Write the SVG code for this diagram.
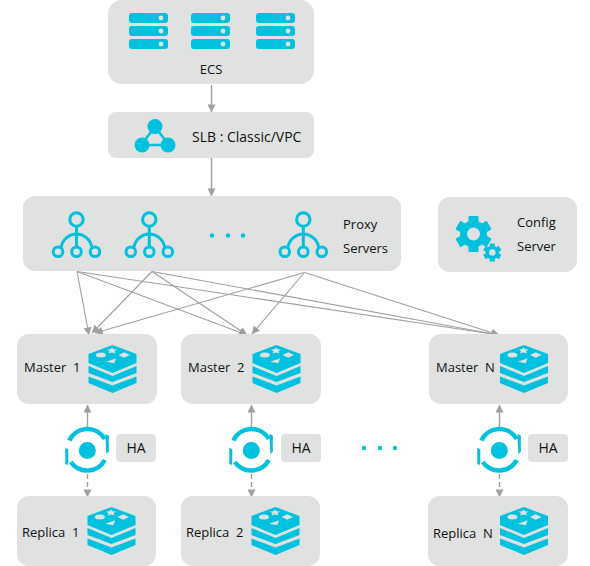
<svg xmlns="http://www.w3.org/2000/svg" width="590" height="566" viewBox="0 0 590 566">
<style>
.box{fill:#e0e1e1}
text{font-family:"Open Sans","Noto Sans",sans-serif;font-size:13px;fill:#111;white-space:pre}
.big{font-size:14px}
.c{fill:#00c1de}
.o{fill:none;stroke:#00c1de;stroke-width:3}
.h{fill:none;stroke:#00c1de;stroke-width:4.500}
.l{fill:none;stroke:#a0a0a0;stroke-width:1.1}
.s{fill:none;stroke:#a0a0a0;stroke-width:1.4}
.d{fill:none;stroke:#a0a0a0;stroke-width:1.4;stroke-dasharray:5 3}
.g{fill:#e0e1e1}
</style>
<defs>
<marker id="a" viewBox="0 0 10 10" refX="9.500" refY="5" markerWidth="8" markerHeight="8" markerUnits="userSpaceOnUse" orient="auto"><path d="M0 0L10 5L0 10Z" fill="#a0a0a0"/></marker>
<marker id="b" viewBox="0 0 10 10" refX="9.500" refY="5" markerWidth="11" markerHeight="8" markerUnits="userSpaceOnUse" orient="auto"><path d="M0 0L10 5L0 10Z" fill="#a0a0a0"/></marker>
<g id="srv"><rect class="c" x="0" y="13" width="39" height="10" rx="3"/><rect class="c" x="0" y="26" width="39" height="10" rx="3"/><rect class="c" x="0" y="39" width="39" height="10" rx="3"/><circle class="g" cx="32" cy="18" r="2.400"/><circle class="g" cx="32" cy="31" r="2.400"/><circle class="g" cx="32" cy="44" r="2.400"/></g>
<g id="proxy"><circle class="o" cx="0" cy="219.500" r="6.700"/><path class="o" d="M0 226V247M-15.500 247.500C-14 239-7 234 0 234S14 239 15.500 247.500"/><circle class="o" cx="-18.500" cy="251.700" r="4.800"/><circle class="o" cx="0" cy="251.700" r="4.800"/><circle class="o" cx="18.500" cy="251.700" r="4.800"/></g>
<g id="redis"><path class="c" d="M0 0L24 9V18L0 28L-24 18V9Z"/><path class="c" d="M-24 21L0 31L24 21V28L0 37L-24 28Z"/><path class="c" d="M-24 31.500L0 40.500L24 31.500V38L0 48L-24 38Z"/><ellipse class="g" cx="-11.600" cy="10" rx="5" ry="2.500"/><path class="g" d="M-.5 2.500L1 4.300L4.500 4.600L2 6.300L3 8.500L-.5 7.400L-4 8.500L-3 6.300L-5.500 4.600L-2 4.300Z"/><path class="g" d="M11.700 7.300L17.500 10L11.700 12.700L6 10Z"/><path class="g" d="M-6.300 16.700L3.700 13.300L1.700 18.300Z"/></g>
<g id="ha"><path class="h" d="M-18 -10A20 20 0 0 1 17.500 -11.500"/><path class="c" d="M18 -16.500L21.500 -15V1L19 3.500Z"/><path class="h" d="M17.500 9.500A20 20 0 0 1 -16.500 11.500"/><path class="c" d="M-22 -3L-19 -1V12L-20 15L-22 13Z"/><circle class="c" cx="0" cy="0" r="8.500"/></g>
<g id="gear"><circle class="c" r="13.500"/><rect class="c" x="-5" y="-18" width="10" height="36" rx="1"/><rect class="c" x="-5" y="-18" width="10" height="36" rx="1" transform="rotate(60)"/><rect class="c" x="-5" y="-18" width="10" height="36" rx="1" transform="rotate(120)"/><circle class="g" r="6.500"/></g>
</defs>
<g id="connectors">
<path class="s" marker-end="url(#a)" d="M211.500 85V112"/>
<path class="s" marker-end="url(#a)" d="M211.500 158V196"/>
<path class="l" marker-end="url(#b)" d="M77 271.500L89 335"/>
<path class="l" marker-end="url(#b)" d="M77 271.500L247 335"/>
<path class="l" marker-end="url(#b)" d="M77 271.500L499 335"/>
<path class="l" marker-end="url(#b)" d="M152 271.500L92 333"/>
<path class="l" marker-end="url(#b)" d="M152 271.500L247 335"/>
<path class="l" marker-end="url(#b)" d="M152 271.500L499 335"/>
<path class="l" marker-end="url(#b)" d="M304.500 272.500L95 333"/>
<path class="l" marker-end="url(#b)" d="M304.500 272.500L252 334"/>
<path class="l" marker-end="url(#b)" d="M304.500 272.500L499 335"/>
<path class="s" marker-end="url(#a)" d="M87.500 427V405"/><path class="d" marker-end="url(#a)" d="M87.500 474V497"/>
<path class="s" marker-end="url(#a)" d="M251.500 427V405"/><path class="d" marker-end="url(#a)" d="M251.500 474V497"/>
<path class="s" marker-end="url(#a)" d="M499.500 427V405"/><path class="d" marker-end="url(#a)" d="M499.500 474V497"/>
</g>
<g id="ecs"><rect class="box" x="108" y="0" width="206" height="84" rx="14"/><use href="#srv" x="129"/><use href="#srv" x="191"/><use href="#srv" x="256"/><text x="211" y="74" text-anchor="middle">ECS</text></g>
<g id="slb"><rect class="box" x="108" y="112" width="206" height="46" rx="8"/><path fill="none" stroke="#00c1de" stroke-width="2.500" d="M155 127L141 145H169Z"/><circle class="c" cx="155" cy="126.500" r="7.500"/><circle class="c" cx="142" cy="145" r="7.500"/><circle class="c" cx="168" cy="145" r="7.500"/><text class="big" x="192" y="142">SLB : Classic/VPC</text></g>
<g id="proxy-servers"><rect class="box" x="23" y="196" width="378" height="75" rx="12"/><use href="#proxy" x="76.500"/><use href="#proxy" x="149.300"/><use href="#proxy" x="303.300"/><circle class="c" cx="212" cy="235.500" r="2.200"/><circle class="c" cx="228" cy="235.500" r="2.200"/><circle class="c" cx="243" cy="235.500" r="2.200"/><text x="343" y="229">Proxy</text><text x="343" y="253">Servers</text></g>
<g id="config-server"><rect class="box" x="438" y="197" width="139" height="75" rx="12"/><use href="#gear" x="473.500" y="234"/><use href="#gear" transform="translate(492.300 252.500) scale(.5)"/><text x="517" y="227">Config</text><text x="517" y="251">Server</text></g>
<g id="master-1"><rect class="box" x="17" y="334" width="140" height="70" rx="12"/><use href="#redis" x="112.500" y="345"/><text x="24" y="372">Master  1</text></g>
<g id="master-2"><rect class="box" x="181" y="334" width="140" height="70" rx="12"/><use href="#redis" x="276.500" y="345"/><text x="188" y="372">Master  2</text></g>
<g id="master-n"><rect class="box" x="429" y="334" width="139" height="70" rx="12"/><use href="#redis" x="524" y="345"/><text x="436" y="372">Master  N</text></g>
<g id="ha-1"><use href="#ha" x="87.300" y="450.500"/><rect class="box" x="116" y="434" width="40" height="28" rx="4"/><text class="big" x="136" y="453" text-anchor="middle">HA</text></g>
<g id="ha-2"><use href="#ha" x="251.300" y="450.500"/><rect class="box" x="281" y="434" width="40" height="28" rx="4"/><text class="big" x="301" y="453" text-anchor="middle">HA</text></g>
<g id="ellipsis"><circle class="c" cx="364" cy="448" r="2.200"/><circle class="c" cx="380" cy="448" r="2.200"/><circle class="c" cx="395" cy="448" r="2.200"/></g>
<g id="ha-n"><use href="#ha" x="499.300" y="450.500"/><rect class="box" x="528" y="434" width="40" height="28" rx="4"/><text class="big" x="548" y="453" text-anchor="middle">HA</text></g>
<g id="replica-1"><rect class="box" x="17" y="496" width="139" height="70" rx="12"/><use href="#redis" x="111.500" y="507"/><text x="22" y="537">Replica  1</text></g>
<g id="replica-2"><rect class="box" x="181" y="496" width="139" height="70" rx="12"/><use href="#redis" x="275.500" y="507"/><text x="186" y="537">Replica  2</text></g>
<g id="replica-n"><rect class="box" x="428" y="496" width="140" height="70" rx="12"/><use href="#redis" x="524" y="507"/><text x="433" y="538">Replica  N</text></g>
</svg>
